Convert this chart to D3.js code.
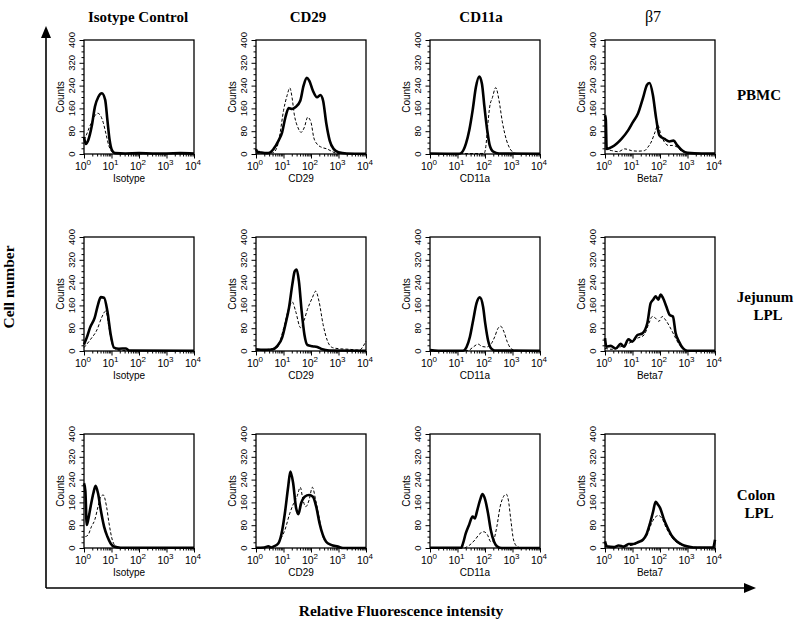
<!DOCTYPE html>
<html><head><meta charset="utf-8">
<script src="https://cdn.jsdelivr.net/npm/d3@7"></script>
<style>body{margin:0;background:#fff}</style>
</head><body>
<svg id="c" width="800" height="630"></svg>
<script>
// ---------- data ----------
const columnTitles = ["Isotype Control", "CD29", "CD11a", "β7"];
const columnBold = [true, true, true, false];
const xAxisLabels = ["Isotype", "CD29", "CD11a", "Beta7"];
const rowLabels = [["PBMC"], ["Jejunum", "LPL"], ["Colon", "LPL"]];
const yTicks = [0, 80, 160, 240, 320, 400];
const xTicks = [1, 10, 100, 1000, 10000];
const xTickExp = ["0", "1", "2", "3", "4"];
const yTitle = "Counts";

// each curve: [log10 fluorescence, counts]
const pbmcIsoSolid = [[0,60],[0.07,35],[0.16,50],[0.28,97],[0.40,167],[0.52,200],[0.65,213],[0.77,190],[0.85,120],[0.93,50],[1.01,15],[1.13,3],[1.5,2],[2,3],[2.5,2],[3,2],[3.5,3],[4,2]];
const pbmcIsoDash = [[0,50],[0.1,70],[0.2,95],[0.3,115],[0.4,135],[0.5,143],[0.6,135],[0.7,110],[0.8,70],[0.9,30],[1.0,10],[1.1,2],[1.5,1],[4,1]];
const pbmcCD29Solid = [[0,17],[0.05,8],[0.2,5],[0.4,3],[0.52,6],[0.64,18],[0.82,47],[0.95,76],[1.07,129],[1.19,161],[1.31,158],[1.43,164],[1.61,187],[1.73,240],[1.85,267],[1.94,257],[2.07,222],[2.22,199],[2.34,207],[2.44,187],[2.56,105],[2.68,47],[2.82,18],[3.0,6],[3.3,2],[4,1]];
const pbmcCD29Dash = [[0,3],[0.6,4],[0.75,20],[0.87,70],[1.0,152],[1.13,205],[1.23,232],[1.31,199],[1.39,140],[1.52,94],[1.64,76],[1.76,94],[1.88,129],[2.0,111],[2.1,58],[2.22,35],[2.4,23],[2.58,18],[2.76,9],[2.95,2],[4,1]];
const pbmcCD11aSolid = [[0,2],[1.06,1],[1.18,8],[1.31,37],[1.43,84],[1.55,153],[1.67,235],[1.79,272],[1.89,246],[1.98,165],[2.08,84],[2.17,31],[2.3,8],[2.51,2],[4,1]];
const pbmcCD11aDash = [[0,1],[1.97,2],[2.03,26],[2.1,101],[2.17,165],[2.27,198],[2.39,233],[2.51,188],[2.63,113],[2.78,49],[2.94,14],[3.12,2],[4,1]];
const pbmcB7Solid = [[0,136],[0.03,120],[0.06,18],[0.24,24],[0.42,36],[0.6,53],[0.84,83],[1.02,113],[1.2,142],[1.38,196],[1.53,243],[1.62,249],[1.74,208],[1.86,125],[1.98,65],[2.16,53],[2.34,44],[2.49,47],[2.63,30],[2.81,12],[3.0,4],[3.5,2],[4,2]];
const pbmcB7Dash = [[0,18],[0.24,12],[0.48,8],[0.72,18],[0.96,12],[1.2,10],[1.44,12],[1.56,24],[1.68,42],[1.82,77],[1.92,101],[2.04,65],[2.16,42],[2.3,30],[2.46,30],[2.63,24],[2.81,8],[3.0,4],[4,1]];

const jejIsoSolid = [[0,23],[0.1,47],[0.22,82],[0.39,117],[0.51,163],[0.61,189],[0.73,187],[0.85,140],[0.97,58],[1.09,12],[1.27,8],[1.52,9],[1.64,2],[4,1]];
const jejIsoDash = [[0,12],[0.24,41],[0.48,76],[0.64,117],[0.79,140],[0.91,82],[1.03,23],[1.15,6],[1.3,2],[4,1]];
const jejCD29Solid = [[0,6],[0.3,4],[0.59,5],[0.77,17],[0.95,47],[1.07,93],[1.2,152],[1.32,233],[1.41,280],[1.48,286],[1.56,245],[1.66,140],[1.76,58],[1.87,21],[2.05,17],[2.23,14],[2.41,6],[2.66,2],[4,1]];
const jejCD29Dash = [[0,2],[0.77,12],[1.01,82],[1.2,152],[1.32,172],[1.44,140],[1.62,82],[1.74,105],[1.87,146],[2.05,187],[2.17,210],[2.29,175],[2.44,93],[2.6,35],[2.78,12],[3.02,8],[3.39,6],[3.76,3],[3.9,17],[4,35]];
const jejCD11aSolid = [[0,3],[0.3,1],[1.2,1],[1.33,14],[1.45,49],[1.57,108],[1.69,167],[1.81,188],[1.93,155],[2.01,96],[2.11,38],[2.23,8],[2.35,2],[4,1]];
const jejCD11aDash = [[0,1],[1.39,2],[1.57,14],[1.75,24],[1.89,16],[2.05,14],[2.23,26],[2.35,49],[2.47,79],[2.57,87],[2.69,67],[2.81,32],[2.95,8],[3.13,2],[4,1]];
const jejB7Solid = [[0,45],[0.05,15],[0.21,18],[0.39,9],[0.57,25],[0.69,15],[0.85,41],[0.99,33],[1.18,56],[1.36,62],[1.54,98],[1.66,168],[1.75,180],[1.84,192],[1.94,180],[2.02,198],[2.11,186],[2.23,156],[2.35,127],[2.47,121],[2.57,62],[2.69,33],[2.84,9],[3.0,1],[4,1]];
const jejB7Dash = [[0,9],[0.27,6],[0.57,15],[0.87,27],[1.18,45],[1.42,56],[1.6,98],[1.72,121],[1.84,115],[1.96,104],[2.08,121],[2.2,109],[2.35,86],[2.51,56],[2.67,27],[2.84,9],[3.0,1],[4,1]];

const colIsoSolid = [[0,227],[0.05,200],[0.1,81],[0.15,98],[0.24,145],[0.34,192],[0.42,218],[0.51,192],[0.61,133],[0.73,75],[0.85,40],[0.97,16],[1.09,5],[1.33,1],[4,1]];
const colIsoDash = [[0.05,40],[0.15,46],[0.27,75],[0.39,98],[0.51,145],[0.61,180],[0.7,186],[0.82,145],[0.91,87],[1.03,28],[1.15,7],[1.35,1],[4,1]];
const colCD29Solid = [[0,1],[0.3,2],[0.45,6],[0.55,2],[0.63,5],[0.81,16],[0.93,51],[1.05,122],[1.17,215],[1.25,268],[1.35,228],[1.45,145],[1.54,119],[1.64,157],[1.77,180],[1.93,186],[2.07,180],[2.19,145],[2.31,87],[2.43,46],[2.55,22],[2.73,11],[2.98,5],[3.16,0],[4,0]];
const colCD29Dash = [[0.69,5],[0.87,28],[1.05,63],[1.23,122],[1.37,157],[1.49,180],[1.61,213],[1.71,168],[1.81,145],[1.93,168],[2.05,213],[2.17,168],[2.29,110],[2.43,40],[2.61,16],[2.8,7],[3.04,1],[4,0]];
const colCD11aSolid = [[0,1],[1.14,1],[1.2,16],[1.3,51],[1.42,81],[1.55,110],[1.63,104],[1.72,133],[1.82,168],[1.91,189],[2.01,168],[2.11,122],[2.21,63],[2.33,22],[2.45,5],[2.61,0],[4,0]];
const colCD11aDash = [[1.26,0],[1.45,11],[1.63,28],[1.82,51],[1.96,57],[2.09,46],[2.21,22],[2.31,28],[2.43,75],[2.55,145],[2.67,180],[2.77,189],[2.85,168],[2.94,98],[3.04,28],[3.17,5],[3.35,0],[4,0]];
const colB7Solid = [[0,23],[0.07,6],[0.32,3],[0.5,9],[0.68,5],[0.86,14],[1.04,14],[1.22,21],[1.38,29],[1.5,46],[1.62,81],[1.75,128],[1.84,162],[1.92,153],[2.01,139],[2.13,104],[2.28,70],[2.44,41],[2.62,23],[2.8,12],[2.98,6],[3.22,2],[3.93,2],[4,29]];
const colB7Dash = [[0,5],[0.5,5],[1.0,10],[1.3,25],[1.53,46],[1.67,81],[1.79,104],[1.95,114],[2.07,104],[2.23,70],[2.4,41],[2.6,20],[2.8,10],[3.0,4],[4,1]];

const panels = [
  [[pbmcIsoSolid, pbmcIsoDash], [pbmcCD29Solid, pbmcCD29Dash], [pbmcCD11aSolid, pbmcCD11aDash], [pbmcB7Solid, pbmcB7Dash]],
  [[jejIsoSolid, jejIsoDash], [jejCD29Solid, jejCD29Dash], [jejCD11aSolid, jejCD11aDash], [jejB7Solid, jejB7Dash]],
  [[colIsoSolid, colIsoDash], [colCD29Solid, colCD29Dash], [colCD11aSolid, colCD11aDash], [colB7Solid, colB7Dash]]
];

// ---------- layout ----------
const colLeft = [84, 256, 430, 605];
const rowTop = [40, 237, 434];
const W = 110, H = 114;
const serif = "'Liberation Serif','Times New Roman',serif";
const sans = "'Liberation Sans',Arial,sans-serif";

const svg = d3.select("#c");
const x = d3.scaleLog().domain([1, 1e4]).range([0, W]);
const y = d3.scaleLinear().domain([0, 400]).range([H, 0]);
const line = d3.line().x(d => x(Math.pow(10, d[0]))).y(d => y(d[1])).curve(d3.curveMonotoneX);

const minorX = [];
for (let e = 0; e < 4; e++) for (let m = 2; m <= 9; m++) minorX.push(m * Math.pow(10, e));
const minorY = d3.range(0, 401, 20).filter(v => !yTicks.includes(v));

panels.forEach((row, ri) => {
  row.forEach((curves, ci) => {
    const g = svg.append("g").attr("transform", `translate(${colLeft[ci]},${rowTop[ri]})`);
    // minor ticks
    g.append("g").attr("transform", `translate(0,${H})`)
      .call(d3.axisBottom(x).tickValues(minorX).tickSize(2.5).tickFormat(""))
      .call(a => a.select(".domain").remove());
    g.append("g")
      .call(d3.axisLeft(y).tickValues(minorY).tickSize(2.5).tickFormat(""))
      .call(a => a.select(".domain").remove());
    // major ticks
    g.append("g").attr("transform", `translate(0,${H})`)
      .call(d3.axisBottom(x).tickValues(xTicks).tickSize(4.5).tickFormat(""))
      .call(a => a.select(".domain").remove());
    g.append("g")
      .call(d3.axisLeft(y).tickValues(yTicks).tickSize(4.5).tickFormat(""))
      .call(a => a.select(".domain").remove());
    g.selectAll(".tick line").attr("stroke", "#000").attr("stroke-width", 1);

    // frame
    g.append("rect").attr("x", 0).attr("y", 0).attr("width", W).attr("height", H)
      .attr("fill", "none").attr("stroke", "#000").attr("stroke-width", 1.3);

    // y tick labels (rotated)
    g.selectAll(".yl").data(yTicks).enter().append("text")
      .attr("transform", d => `translate(${-9},${y(d)}) rotate(-90)`)
      .attr("text-anchor", "middle").attr("font-family", sans).attr("font-size", 9.5)
      .text(d => d);
    g.append("text").attr("transform", `translate(${-20},${H / 2}) rotate(-90)`)
      .attr("text-anchor", "middle").attr("font-family", sans).attr("font-size", 10)
      .text(yTitle);

    // x tick labels with superscripts
    xTicks.forEach((v, i) => {
      const t = g.append("text").attr("x", x(v) - 1).attr("y", H + 16)
        .attr("text-anchor", "middle").attr("font-family", sans).attr("font-size", 10.5);
      t.append("tspan").text("10");
      t.append("tspan").attr("dy", -5).attr("font-size", 8).text(xTickExp[i]);
    });
    g.append("text").attr("x", W / 2 - 10).attr("y", H + 28)
      .attr("text-anchor", "middle").attr("font-family", sans).attr("font-size", 10)
      .text(xAxisLabels[ci]);

    // curves
    g.append("path").datum(curves[1]).attr("d", line)
      .attr("fill", "none").attr("stroke", "#000").attr("stroke-width", 1)
      .attr("stroke-dasharray", "3,2");
    g.append("path").datum(curves[0]).attr("d", line)
      .attr("fill", "none").attr("stroke", "#000").attr("stroke-width", 2.6)
      .attr("stroke-linejoin", "round");
  });
});

// column titles
const titleX = [138, 308, 481, 653];
columnTitles.forEach((t, i) => {
  svg.append("text").attr("x", titleX[i]).attr("y", 22).attr("text-anchor", "middle")
    .attr("font-family", serif).attr("font-size", columnBold[i] ? 15 : 16)
    .attr("font-weight", columnBold[i] ? "bold" : "normal").text(t);
});

// row labels
const rowLabelX = [759, 765, 756];
const rowLabelY = [100, 302, 500];
rowLabels.forEach((lines, i) => {
  lines.forEach((l, j) => {
    svg.append("text").attr("x", rowLabelX[i] + (j > 0 ? 3 : 0)).attr("y", rowLabelY[i] + j * 18)
      .attr("text-anchor", "middle").attr("font-family", serif).attr("font-size", 15)
      .attr("font-weight", "bold").text(l);
  });
});

// big axes with arrows
svg.append("line").attr("x1", 46).attr("y1", 588).attr("x2", 46).attr("y2", 34)
  .attr("stroke", "#000").attr("stroke-width", 1.6);
svg.append("path").attr("d", "M46,26 L41,38 L51,38 Z").attr("fill", "#000");
svg.append("line").attr("x1", 46).attr("y1", 588).attr("x2", 748).attr("y2", 588)
  .attr("stroke", "#000").attr("stroke-width", 1.6);
svg.append("path").attr("d", "M756,588 L744,583 L744,593 Z").attr("fill", "#000");

svg.append("text").attr("transform", "translate(14,287) rotate(-90)")
  .attr("text-anchor", "middle").attr("font-family", serif).attr("font-size", 15.5)
  .attr("font-weight", "bold").text("Cell number");
svg.append("text").attr("x", 401).attr("y", 616).attr("text-anchor", "middle")
  .attr("font-family", serif).attr("font-size", 15.5).attr("font-weight", "bold")
  .text("Relative Fluorescence intensity");
</script>
</body></html>
